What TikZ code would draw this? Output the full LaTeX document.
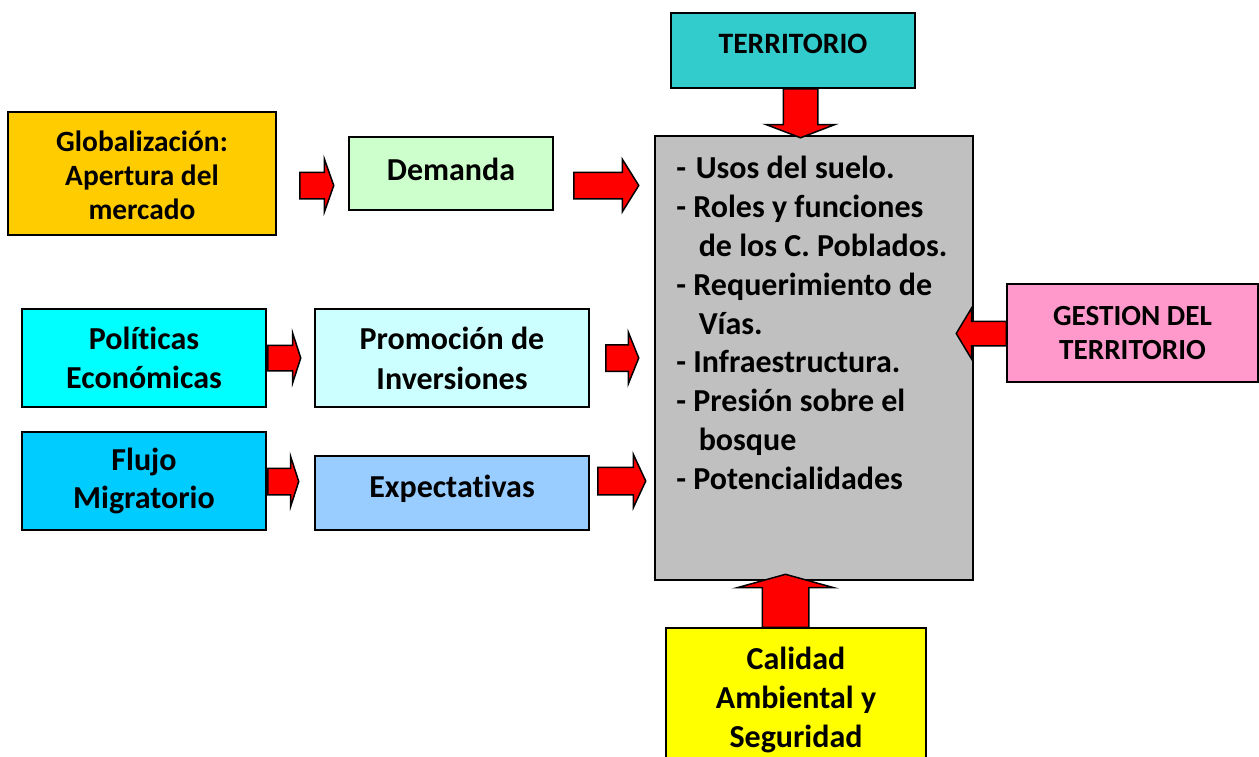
\documentclass[tikz,border=0pt]{standalone}
\usepackage{fontspec}
\setmainfont{Carlito}[Ligatures=NoCommon]
\usepackage{tikz}
\usetikzlibrary{shapes.arrows}
\definecolor{terrC}{HTML}{33CCCC}
\definecolor{globC}{HTML}{FFCC00}
\definecolor{demC}{HTML}{CCFFCC}
\definecolor{grisC}{HTML}{C0C0C0}
\definecolor{gestC}{HTML}{FF99CC}
\definecolor{polC}{HTML}{00FFFF}
\definecolor{promC}{HTML}{CCFFFF}
\definecolor{flujoC}{HTML}{00CCFF}
\definecolor{expC}{HTML}{99CCFF}
\definecolor{calC}{HTML}{FFFF00}

\begin{document}
\begin{tikzpicture}[x=0.5pt, y=-0.5pt,
    caja/.style={draw=black, line width=1pt, inner sep=0pt},
    texto/.style={inner sep=0pt, align=center},
    flecha/.style={single arrow, draw=black, fill=red, line width=0.75pt,
                   anchor=tail}]
  \useasboundingbox (0,0) rectangle (1259,756);
  \clip (0,0) rectangle (1259,756);
  % boxes: x, y (centre), width, height, font size, line skip, text shift, fill, name, text
  \foreach \x/\y/\w/\h/\fs/\ls/\dy/\c/\nm/\txt in {%
    793/50.5/244/75/14.8/17.5/7/terrC/terr/{TERRITORIO},%
    142/173.5/268/123/14.7/17/-2/globC/glob/{Globalización:\\Apertura del\\mercado},%
    451/173.5/204/73/16/17.5/4/demC/dem/{Demanda},%
    814/358/318/444/16/17.5/0/grisC/gris/{},%
    1132.5/333/251/98/14.6/16.7/0/gestC/gest/{GESTION DEL\\TERRITORIO},%
    144/358/244/98/16/19.5/0/polC/pol/{Políticas\\Económicas},%
    452/358/274/98/16/20/0/promC/prom/{Promoción de\\Inversiones},%
    144/481/244/98/16/19/0/flujoC/flujo/{Flujo\\Migratorio},%
    452/493/274/74/16/17.5/4/expC/expec/{Expectativas},%
    796/700/260/144/16/19.3/0/calC/cal/{Calidad\\Ambiental y\\Seguridad}}{%
      \node[caja, fill=\c, minimum width=\w*0.5pt, minimum height=\h*0.5pt]
            (\nm) at (\x,\y) {};
      \node[texto, font=\fontsize{\fs}{\ls}\selectfont\bfseries]
            (\nm-t) at ([yshift=\dy*0.5pt]\nm.center) {\txt};
  }
  % list inside the grey box
  \node[anchor=north west, align=left, inner sep=0pt,
        font=\fontsize{16}{19.4}\selectfont\bfseries] (lista) at (676,156) {%
    -\hspace{0.3em}Usos del suelo.\\
    - Roles y funciones\\
    \hspace*{0.7em}de los C. Poblados.\\
    - Requerimiento de\\
    \hspace*{0.7em}Vías.\\
    - Infraestructura.\\
    - Presión sobre el\\
    \hspace*{0.7em}bosque\\
    - Potencialidades};
  % block arrows: tail x, y, direction, length, head width, shaft width, tip angle
  \foreach \x/\y/\r/\l/\w/\s/\t [count=\n] in {%
    299/185.5/0/34/51/25/141,%
    573/185.5/0/65/51/25/116,%
    267/358/0/33/49/24/144,%
    605/358/0/33/50/25/136,%
    267/481.5/0/31/49/25/144,%
    597/481/0/48/52/26/130,%
    800.5/88/270/49/67/33/138,%
    1007/333.5/180/50/50/23/118,%
    785.5/628/90/48/95/45/149}{%
      \node[flecha, shape border rotate=\r, inner sep=\s*0.25pt,
            minimum height=\l*0.5pt, single arrow head extend={(\w-\s)*0.25pt},
            single arrow tip angle=\t] (A\n) at (\x,\y) {};
  }
\end{tikzpicture}
\end{document}
